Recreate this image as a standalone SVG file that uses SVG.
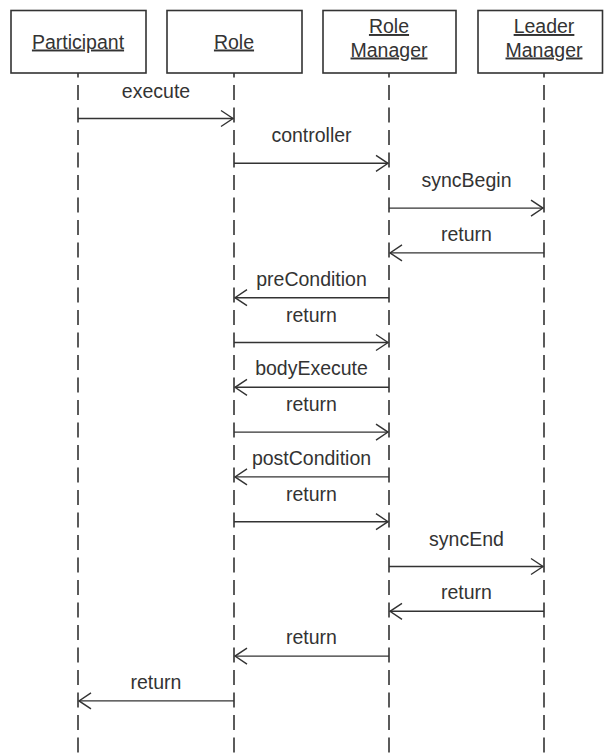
<svg xmlns="http://www.w3.org/2000/svg" width="604" height="753" viewBox="0 0 604 753">
<defs>
<style>
.box{fill:#fff;stroke:#333;stroke-width:1.6}
.nt{font-family:"Liberation Sans",Arial,sans-serif;font-size:19.5px;fill:#333;text-anchor:middle;text-decoration:underline}
.lt{font-family:"Liberation Sans",Arial,sans-serif;font-size:19.5px;fill:#333;text-anchor:middle}
.life{stroke:#333;stroke-width:1.6;stroke-dasharray:15 7.5;stroke-dashoffset:10.5;fill:none}
.msg{stroke:#333;stroke-width:1.4;fill:none;marker-end:url(#open)}
</style>
<marker id="open" markerUnits="userSpaceOnUse" viewBox="-14 -10 16 20" refX="0" refY="0" markerWidth="16" markerHeight="20" orient="auto">
<path d="M-12,-8 L0,0 L-12,8" fill="none" stroke="#333" stroke-width="1.4"/>
</marker>
</defs>
<rect width="604" height="753" fill="#fff"/>
<g id="lifelines">
<line class="life" x1="78" y1="73" x2="78" y2="753"/>
<line class="life" x1="234" y1="73" x2="234" y2="753"/>
<line class="life" x1="389" y1="73" x2="389" y2="753"/>
<line class="life" x1="544" y1="73" x2="544" y2="753"/>
</g>
<g id="participant">
<rect class="box" x="11" y="10.5" width="135" height="62.5"/>
<text class="nt" x="78" y="48.5">Participant</text>
</g>
<g id="role">
<rect class="box" x="167" y="10.5" width="135" height="62.5"/>
<text class="nt" x="234" y="48.5">Role</text>
</g>
<g id="role-manager">
<rect class="box" x="323" y="10.5" width="133" height="62.5"/>
<text class="nt" x="389" y="33">Role</text>
<text class="nt" x="389" y="56.5">Manager</text>
</g>
<g id="leader-manager">
<rect class="box" x="478" y="10.5" width="124.5" height="62.5"/>
<text class="nt" x="544" y="33">Leader</text>
<text class="nt" x="544" y="56.5">Manager</text>
</g>
<g id="connectors">
<line class="msg" x1="78" y1="118.5" x2="233" y2="118.5"/>
<text class="lt" x="156" y="97.5">execute</text>
<line class="msg" x1="234" y1="163.3" x2="388" y2="163.3"/>
<text class="lt" x="311.5" y="142.3">controller</text>
<line class="msg" x1="389" y1="208.1" x2="543" y2="208.1"/>
<text class="lt" x="466.5" y="187.1">syncBegin</text>
<line class="msg" x1="544" y1="252.9" x2="390" y2="252.9"/>
<text class="lt" x="466.5" y="240.9">return</text>
<line class="msg" x1="389" y1="297.7" x2="235" y2="297.7"/>
<text class="lt" x="311.5" y="285.7">preCondition</text>
<line class="msg" x1="234" y1="342.5" x2="388" y2="342.5"/>
<text class="lt" x="311.5" y="321.5">return</text>
<line class="msg" x1="389" y1="387.3" x2="235" y2="387.3"/>
<text class="lt" x="311.5" y="375.3">bodyExecute</text>
<line class="msg" x1="234" y1="432.1" x2="388" y2="432.1"/>
<text class="lt" x="311.5" y="411.1">return</text>
<line class="msg" x1="389" y1="476.9" x2="235" y2="476.9"/>
<text class="lt" x="311.5" y="464.9">postCondition</text>
<line class="msg" x1="234" y1="521.7" x2="388" y2="521.7"/>
<text class="lt" x="311.5" y="500.7">return</text>
<line class="msg" x1="389" y1="566.5" x2="543" y2="566.5"/>
<text class="lt" x="466.5" y="545.5">syncEnd</text>
<line class="msg" x1="544" y1="611.3" x2="390" y2="611.3"/>
<text class="lt" x="466.5" y="599.3">return</text>
<line class="msg" x1="389" y1="656.1" x2="235" y2="656.1"/>
<text class="lt" x="311.5" y="644.1">return</text>
<line class="msg" x1="234" y1="700.9" x2="79" y2="700.9"/>
<text class="lt" x="156" y="688.9">return</text>
</g>
</svg>
